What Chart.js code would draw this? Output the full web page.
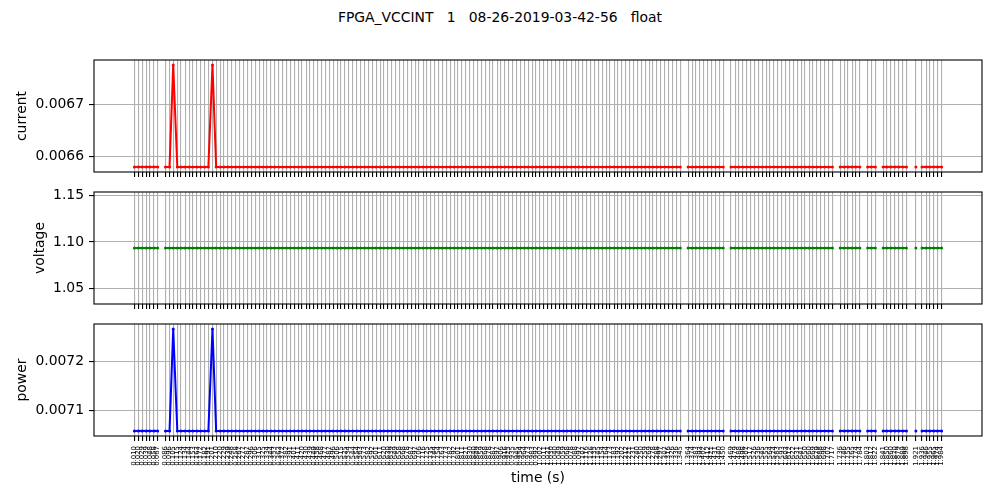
<!DOCTYPE html>
<html><head><meta charset="utf-8">
<script src="https://cdn.jsdelivr.net/npm/chart.js@4.4.0/dist/chart.umd.min.js"></script>
<style>
html,body{margin:0;padding:0;background:#fff;}
#wrap{position:relative;width:1000px;height:500px;overflow:hidden;background:#fff;}
canvas{position:absolute;left:0;}
#title{position:absolute;top:8px;left:0;width:1000px;text-align:center;font-family:"DejaVu Sans";font-size:13.9px;line-height:18px;white-space:pre;color:#000;}
</style></head><body>
<div id="wrap">
<div id="title">FPGA_VCCINT   1   08-26-2019-03-42-56   float</div>
<canvas id="c1" width="1000" height="180" style="top:0px"></canvas>
<canvas id="c2" width="1000" height="132" style="top:180px"></canvas>
<canvas id="c3" width="1000" height="188" style="top:312px"></canvas>
</div>
<script>
const times = [
0.010,0.020,0.029,0.039,0.048,0.058,0.067,0.086,0.096,0.105,
0.115,0.124,0.134,0.144,0.153,0.163,0.172,0.182,0.191,0.201,
0.210,0.220,0.229,0.239,0.248,0.258,0.267,0.277,0.287,0.296,
0.306,0.315,0.325,0.334,0.344,0.353,0.363,0.372,0.382,0.391,
0.401,0.411,0.420,0.430,0.439,0.449,0.458,0.468,0.477,0.487,
0.496,0.506,0.515,0.525,0.534,0.544,0.554,0.563,0.573,0.582,
0.592,0.601,0.611,0.620,0.630,0.639,0.649,0.658,0.668,0.678,
0.687,0.697,0.706,0.716,0.725,0.735,0.744,0.754,0.763,0.773,
0.782,0.792,0.801,0.811,0.821,0.830,0.840,0.849,0.859,0.868,
0.878,0.887,0.897,0.906,0.916,0.925,0.935,0.945,0.954,0.964,
0.973,0.983,0.992,1.002,1.011,1.021,1.030,1.040,1.049,1.059,
1.068,1.078,1.088,1.097,1.107,1.116,1.126,1.135,1.145,1.154,
1.164,1.173,1.183,1.192,1.202,1.212,1.221,1.231,1.240,1.250,
1.259,1.269,1.278,1.288,1.297,1.307,1.316,1.326,1.336,1.345,
1.364,1.374,1.383,1.393,1.402,1.412,1.421,1.431,1.440,1.450,
1.469,1.479,1.488,1.498,1.507,1.517,1.526,1.536,1.545,1.555,
1.564,1.574,1.583,1.593,1.603,1.612,1.622,1.631,1.641,1.650,
1.660,1.669,1.679,1.688,1.698,1.707,1.717,1.736,1.746,1.755,
1.765,1.774,1.784,1.803,1.812,1.822,1.841,1.850,1.860,1.870,
1.879,1.889,1.898,1.921,1.936,1.946,1.955,1.965,1.974,1.984
];
const current = [
0.006581,0.006581,0.006581,0.006581,0.006581,0.006581,0.006581,0.006581,0.006581,0.006774,
0.006581,0.006581,0.006581,0.006581,0.006581,0.006581,0.006581,0.006581,0.006581,0.006774,
0.006581,0.006581,0.006581,0.006581,0.006581,0.006581,0.006581,0.006581,0.006581,0.006581,
0.006581,0.006581,0.006581,0.006581,0.006581,0.006581,0.006581,0.006581,0.006581,0.006581,
0.006581,0.006581,0.006581,0.006581,0.006581,0.006581,0.006581,0.006581,0.006581,0.006581,
0.006581,0.006581,0.006581,0.006581,0.006581,0.006581,0.006581,0.006581,0.006581,0.006581,
0.006581,0.006581,0.006581,0.006581,0.006581,0.006581,0.006581,0.006581,0.006581,0.006581,
0.006581,0.006581,0.006581,0.006581,0.006581,0.006581,0.006581,0.006581,0.006581,0.006581,
0.006581,0.006581,0.006581,0.006581,0.006581,0.006581,0.006581,0.006581,0.006581,0.006581,
0.006581,0.006581,0.006581,0.006581,0.006581,0.006581,0.006581,0.006581,0.006581,0.006581,
0.006581,0.006581,0.006581,0.006581,0.006581,0.006581,0.006581,0.006581,0.006581,0.006581,
0.006581,0.006581,0.006581,0.006581,0.006581,0.006581,0.006581,0.006581,0.006581,0.006581,
0.006581,0.006581,0.006581,0.006581,0.006581,0.006581,0.006581,0.006581,0.006581,0.006581,
0.006581,0.006581,0.006581,0.006581,0.006581,0.006581,0.006581,0.006581,0.006581,0.006581,
0.006581,0.006581,0.006581,0.006581,0.006581,0.006581,0.006581,0.006581,0.006581,0.006581,
0.006581,0.006581,0.006581,0.006581,0.006581,0.006581,0.006581,0.006581,0.006581,0.006581,
0.006581,0.006581,0.006581,0.006581,0.006581,0.006581,0.006581,0.006581,0.006581,0.006581,
0.006581,0.006581,0.006581,0.006581,0.006581,0.006581,0.006581,0.006581,0.006581,0.006581,
0.006581,0.006581,0.006581,0.006581,0.006581,0.006581,0.006581,0.006581,0.006581,0.006581,
0.006581,0.006581,0.006581,0.006581,0.006581,0.006581,0.006581,0.006581,0.006581,0.006581
];
const voltage = [
1.0936,1.0936,1.0936,1.0936,1.0936,1.0936,1.0936,1.0936,1.0936,1.0936,
1.0936,1.0936,1.0936,1.0936,1.0936,1.0936,1.0936,1.0936,1.0936,1.0936,
1.0936,1.0936,1.0936,1.0936,1.0936,1.0936,1.0936,1.0936,1.0936,1.0936,
1.0936,1.0936,1.0936,1.0936,1.0936,1.0936,1.0936,1.0936,1.0936,1.0936,
1.0936,1.0936,1.0936,1.0936,1.0936,1.0936,1.0936,1.0936,1.0936,1.0936,
1.0936,1.0936,1.0936,1.0936,1.0936,1.0936,1.0936,1.0936,1.0936,1.0936,
1.0936,1.0936,1.0936,1.0936,1.0936,1.0936,1.0936,1.0936,1.0936,1.0936,
1.0936,1.0936,1.0936,1.0936,1.0936,1.0936,1.0936,1.0936,1.0936,1.0936,
1.0936,1.0936,1.0936,1.0936,1.0936,1.0936,1.0936,1.0936,1.0936,1.0936,
1.0936,1.0936,1.0936,1.0936,1.0936,1.0936,1.0936,1.0936,1.0936,1.0936,
1.0936,1.0936,1.0936,1.0936,1.0936,1.0936,1.0936,1.0936,1.0936,1.0936,
1.0936,1.0936,1.0936,1.0936,1.0936,1.0936,1.0936,1.0936,1.0936,1.0936,
1.0936,1.0936,1.0936,1.0936,1.0936,1.0936,1.0936,1.0936,1.0936,1.0936,
1.0936,1.0936,1.0936,1.0936,1.0936,1.0936,1.0936,1.0936,1.0936,1.0936,
1.0936,1.0936,1.0936,1.0936,1.0936,1.0936,1.0936,1.0936,1.0936,1.0936,
1.0936,1.0936,1.0936,1.0936,1.0936,1.0936,1.0936,1.0936,1.0936,1.0936,
1.0936,1.0936,1.0936,1.0936,1.0936,1.0936,1.0936,1.0936,1.0936,1.0936,
1.0936,1.0936,1.0936,1.0936,1.0936,1.0936,1.0936,1.0936,1.0936,1.0936,
1.0936,1.0936,1.0936,1.0936,1.0936,1.0936,1.0936,1.0936,1.0936,1.0936,
1.0936,1.0936,1.0936,1.0936,1.0936,1.0936,1.0936,1.0936,1.0936,1.0936
];
const power = [
0.007059,0.007059,0.007059,0.007059,0.007059,0.007059,0.007059,0.007059,0.007059,0.007267,
0.007059,0.007059,0.007059,0.007059,0.007059,0.007059,0.007059,0.007059,0.007059,0.007267,
0.007059,0.007059,0.007059,0.007059,0.007059,0.007059,0.007059,0.007059,0.007059,0.007059,
0.007059,0.007059,0.007059,0.007059,0.007059,0.007059,0.007059,0.007059,0.007059,0.007059,
0.007059,0.007059,0.007059,0.007059,0.007059,0.007059,0.007059,0.007059,0.007059,0.007059,
0.007059,0.007059,0.007059,0.007059,0.007059,0.007059,0.007059,0.007059,0.007059,0.007059,
0.007059,0.007059,0.007059,0.007059,0.007059,0.007059,0.007059,0.007059,0.007059,0.007059,
0.007059,0.007059,0.007059,0.007059,0.007059,0.007059,0.007059,0.007059,0.007059,0.007059,
0.007059,0.007059,0.007059,0.007059,0.007059,0.007059,0.007059,0.007059,0.007059,0.007059,
0.007059,0.007059,0.007059,0.007059,0.007059,0.007059,0.007059,0.007059,0.007059,0.007059,
0.007059,0.007059,0.007059,0.007059,0.007059,0.007059,0.007059,0.007059,0.007059,0.007059,
0.007059,0.007059,0.007059,0.007059,0.007059,0.007059,0.007059,0.007059,0.007059,0.007059,
0.007059,0.007059,0.007059,0.007059,0.007059,0.007059,0.007059,0.007059,0.007059,0.007059,
0.007059,0.007059,0.007059,0.007059,0.007059,0.007059,0.007059,0.007059,0.007059,0.007059,
0.007059,0.007059,0.007059,0.007059,0.007059,0.007059,0.007059,0.007059,0.007059,0.007059,
0.007059,0.007059,0.007059,0.007059,0.007059,0.007059,0.007059,0.007059,0.007059,0.007059,
0.007059,0.007059,0.007059,0.007059,0.007059,0.007059,0.007059,0.007059,0.007059,0.007059,
0.007059,0.007059,0.007059,0.007059,0.007059,0.007059,0.007059,0.007059,0.007059,0.007059,
0.007059,0.007059,0.007059,0.007059,0.007059,0.007059,0.007059,0.007059,0.007059,0.007059,
0.007059,0.007059,0.007059,0.007059,0.007059,0.007059,0.007059,0.007059,0.007059,0.007059
];
const currentTicks = [0.0066, 0.0067];
const voltageTicks = [1.05, 1.10, 1.15];
const powerTicks = [0.0071, 0.0072];

Chart.defaults.font.family = "'DejaVu Sans'";
Chart.defaults.color = '#000';

const GAP = 0.0135;
function autoRange(vals) {
  let lo = Math.min(...vals), hi = Math.max(...vals);
  if (hi - lo < 1e-12) { lo -= 0.05 * Math.abs(lo); hi += 0.05 * Math.abs(hi); }
  const m = (hi - lo) * 0.05;
  return [lo - m, hi + m];
}
const xr = autoRange(times);

const framePlugin = {
  id: 'frame',
  afterDraw(chart) {
    const {ctx, chartArea: a} = chart;
    ctx.save();
    ctx.strokeStyle = '#000';
    ctx.lineWidth = 1.1;
    ctx.strokeRect(a.left, a.top, a.right - a.left, a.bottom - a.top);
    ctx.restore();
  }
};

function makeChart(id, values, color, yTicks, dec, yTitle, titlePad, padTop, xHeight, showX) {
  const yr = autoRange(values);
  return new Chart(document.getElementById(id), {
    type: 'line',
    data: {
      datasets: [{
        data: times.map((t, i) => ({x: t, y: values[i]})),
        borderColor: color,
        backgroundColor: color,
        borderWidth: 2,
        pointRadius: 1.5,
        pointBorderWidth: 0,
        pointHoverRadius: 0,
        tension: 0,
        fill: false,
        segment: {
          borderColor: c => (c.p1.parsed.x - c.p0.parsed.x > GAP ? 'rgba(0,0,0,0)' : color)
        }
      }]
    },
    options: {
      responsive: false,
      animation: false,
      events: [],
      layout: {padding: {top: padTop, right: 18, left: 0, bottom: 0}},
      plugins: {legend: {display: false}, tooltip: {enabled: false}},
      scales: {
        x: {
          type: 'linear',
          min: xr[0], max: xr[1],
          afterBuildTicks: s => { s.ticks = times.map(v => ({value: v})); },
          afterFit: s => { s.height = xHeight; s.paddingLeft = 0; s.paddingRight = 0; },
          grid: {color: '#b0b0b0', lineWidth: 1.1, tickLength: 5, tickColor: '#000', tickWidth: 1.1, drawTicks: true},
          border: {display: false},
          ticks: {
            display: showX, autoSkip: false, maxRotation: 90, minRotation: 90,
            padding: 5, font: {size: 6.94},
            callback: v => v.toFixed(3)
          },
          title: {display: showX, text: 'time (s)', padding: {top: 0, bottom: 13.7}, font: {size: 13.9}}
        },
        y: {
          min: yr[0], max: yr[1],
          afterBuildTicks: s => { s.ticks = yTicks.map(v => ({value: v})); },
          afterFit: s => { s.width = 94; s.paddingTop = 0; s.paddingBottom = 0; },
          grid: {color: '#b0b0b0', lineWidth: 1.1, tickLength: 5, tickColor: '#000', tickWidth: 1.1},
          border: {display: false},
          ticks: {padding: 5, font: {size: 13.9}, callback: v => v.toFixed(dec)},
          title: {display: true, text: yTitle, padding: {top: titlePad, bottom: 0}, font: {size: 13.9}}
        }
      }
    },
    plugins: [framePlugin]
  });
}

makeChart('c1', current, '#ff0000', currentTicks, 4, 'current', 13.7, 60, 8, false);
makeChart('c2', voltage, '#008000', voltageTicks, 2, 'voltage', 31.7, 12, 8, false);
makeChart('c3', power, '#0000ff', powerTicks, 4, 'power', 13.7, 12, 64, true);
</script>
</body></html>
